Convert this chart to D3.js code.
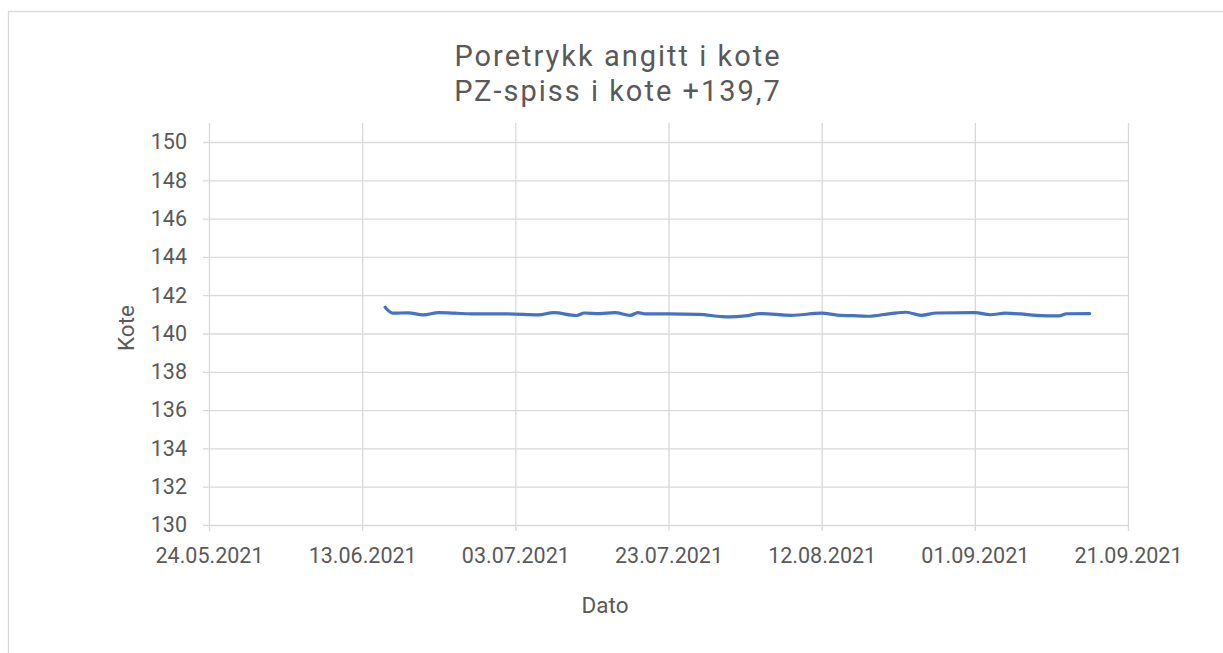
<!DOCTYPE html>
<html>
<head>
<meta charset="utf-8">
<script src="https://cdn.jsdelivr.net/npm/d3@7"></script>
<style>
  html, body { margin: 0; padding: 0; background: #fff; }
  svg { display: block; font-family: Roboto, "Open Sans", sans-serif; }
</style>
</head>
<body>
<svg id="chart" width="1223" height="653"></svg>
<script>
// Pore pressure readings expressed as elevation (kote)
const dates = [
  "2021-06-16","2021-06-17","2021-06-19","2021-06-21","2021-06-23","2021-06-25",
  "2021-06-28","2021-07-02","2021-07-06","2021-07-08","2021-07-11","2021-07-12",
  "2021-07-14","2021-07-16","2021-07-18","2021-07-19","2021-07-20","2021-07-23",
  "2021-07-27","2021-07-30","2021-07-31","2021-08-02","2021-08-04","2021-08-08",
  "2021-08-12","2021-08-14","2021-08-16","2021-08-18","2021-08-21","2021-08-23",
  "2021-08-25","2021-08-27","2021-09-01","2021-09-03","2021-09-05","2021-09-07",
  "2021-09-09","2021-09-12","2021-09-13","2021-09-16"
];
const kote = [
  141.37, 141.06, 141.08, 140.97, 141.09, 141.06,
  141.02, 141.02, 140.97, 141.09, 140.94, 141.07,
  141.04, 141.09, 140.95, 141.09, 141.02, 141.02,
  141.00, 140.88, 140.87, 140.92, 141.04, 140.95,
  141.06, 140.96, 140.93, 140.90, 141.04, 141.11,
  140.95, 141.07, 141.09, 140.98, 141.06, 141.02,
  140.95, 140.92, 141.03, 141.04
];
const xTickLabels = ["24.05.2021","13.06.2021","03.07.2021","23.07.2021","12.08.2021","01.09.2021","21.09.2021"];
const yTicks = [130,132,134,136,138,140,142,144,146,148,150];
const titleLines = ["Poretrykk angitt i kote", "PZ-spiss i kote +139,7"];

const parseDay = d3.utcParse("%Y-%m-%d");
const parseLabel = d3.utcParse("%d.%m.%Y");
const fmtLabel = d3.utcFormat("%d.%m.%Y");
const points = dates.map((d, i) => ({ date: parseDay(d), value: kote[i] }));
const xTickDates = xTickLabels.map(parseLabel);

const svg = d3.select("#chart");
const plotLeft = 209, plotRight = 1128, plotTop = 142, plotBottom = 525;
const gridTop = 123;
const textColor = "#595959";
const gridColor = "#d9d9d9";

// chart frame
svg.append("rect")
  .attr("x", 8.5).attr("y", 11.5)
  .attr("width", 1400).attr("height", 800)
  .attr("fill", "none").attr("stroke", gridColor).attr("stroke-width", 1.3);

const x = d3.scaleUtc()
  .domain([xTickDates[0], xTickDates[xTickDates.length - 1]])
  .range([plotLeft, plotRight]);
const y = d3.scaleLinear().domain([130, 150]).range([plotBottom, plotTop]);

// horizontal gridlines with left tick marks
const yAxis = d3.axisLeft(y).tickValues(yTicks).tickSize(-(plotRight - plotLeft)).tickSizeOuter(0).tickPadding(22);
const gy = svg.append("g").attr("transform", `translate(${plotLeft},0)`).call(yAxis);
gy.select(".domain").remove();
gy.selectAll(".tick line")
  .attr("x1", -6)
  .attr("stroke", gridColor).attr("stroke-width", 1.3);
gy.selectAll(".tick text")
  .attr("fill", textColor).attr("font-size", 21.5).attr("font-family", "Roboto, sans-serif");

// vertical gridlines extending below the axis as ticks
const xAxis = d3.axisBottom(x).tickValues(xTickDates).tickFormat(fmtLabel)
  .tickSize(0).tickSizeOuter(0).tickPadding(23);
const gx = svg.append("g").attr("transform", `translate(0,${plotBottom})`).call(xAxis);
gx.select(".domain").remove();
gx.selectAll(".tick line")
  .attr("y1", 6).attr("y2", gridTop - plotBottom)
  .attr("stroke", gridColor).attr("stroke-width", 1.3);
gx.selectAll(".tick text")
  .attr("fill", textColor).attr("font-size", 21.5).attr("font-family", "Roboto, sans-serif");

// data line
const line = d3.line()
  .x(d => x(d.date))
  .y(d => y(d.value))
  .curve(d3.curveMonotoneX);
svg.append("path")
  .datum(points)
  .attr("d", line)
  .attr("fill", "none")
  .attr("stroke", "#4472C4")
  .attr("stroke-width", 3.2)
  .attr("stroke-linecap", "round")
  .attr("stroke-linejoin", "round");

// two-line title
svg.selectAll("text.title").data(titleLines).join("text")
  .attr("class", "title")
  .attr("x", 618)
  .attr("y", (d, i) => 66 + i * 35)
  .attr("text-anchor", "middle")
  .attr("fill", textColor)
  .attr("font-size", 29)
  .attr("letter-spacing", 2)
  .text(d => d);

// axis titles
svg.append("text")
  .attr("transform", "translate(134,328) rotate(-90)")
  .attr("text-anchor", "middle")
  .attr("fill", textColor).attr("font-size", 22.5)
  .text("Kote");
svg.append("text")
  .attr("x", 605).attr("y", 613)
  .attr("text-anchor", "middle")
  .attr("fill", textColor).attr("font-size", 22.5)
  .text("Dato");
</script>
</body>
</html>
